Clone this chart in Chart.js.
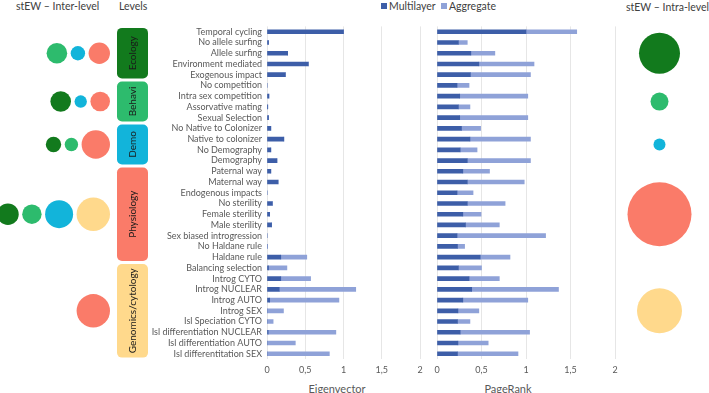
<!DOCTYPE html>
<html>
<head>
<meta charset="utf-8">
<script src="https://cdn.jsdelivr.net/npm/chart.js@4.4.1/dist/chart.umd.min.js"></script>
<style>
body { margin: 0; width: 709px; height: 393px; background: #fff; position: relative; overflow: hidden; font-family: Lato, "Open Sans", sans-serif; }
canvas { position: absolute; top: 0; }
.txt { position: absolute; white-space: nowrap; line-height: 12px; font-size: 10.5px; color: #404040; }
.sq { display: inline-block; width: 6px; height: 6px; margin-right: 2px; vertical-align: 1px; }
.axt { position: absolute; top: 382px; font-size: 11px; color: #595959; transform: translateX(-50%); white-space: nowrap; }
</style>
</head>
<body>
<div class="txt" style="left:16px; top:0px">stEW – Inter-level</div>
<div class="txt" style="left:119px; top:0px">Levels</div>
<div class="txt" style="left:381px; top:0px"><span class="sq" style="background:#3d5ea8"></span>Multilayer</div>
<div class="txt" style="left:441px; top:0px"><span class="sq" style="background:#8fa2d8"></span>Aggregate</div>
<div class="txt" style="left:626px; top:1px">stEW – Intra-level</div>
<div class="axt" style="left:337px">Eigenvector</div>
<div class="axt" style="left:508px">PageRank</div>

<canvas id="interChart" width="112" height="393" style="left:0px"></canvas>
<canvas id="eigChart" width="320" height="393" style="left:110px"></canvas>
<canvas id="prChart" width="197" height="393" style="left:428px"></canvas>
<canvas id="intraChart" width="89" height="393" style="left:615px"></canvas>

<script>
const categories = [
    "Temporal cycling", "No allele surfing", "Allele surfing", "Environment mediated", "Exogenous impact",
    "No competition", "Intra sex competition", "Assorvative mating", "Sexual Selection",
    "No Native to Colonizer", "Native to colonizer", "No Demography", "Demography",
    "Paternal way", "Maternal way", "Endogenous impacts", "No sterility", "Female sterility", "Male sterility",
    "Sex biased introgression", "No Haldane rule", "Haldane rule",
    "Balancing selection", "Introg CYTO", "Introg NUCLEAR", "Introg AUTO", "Introg SEX",
    "Isl Speciation CYTO", "Isl differentiation NUCLEAR", "Isl differentiation AUTO", "Isl differentitation SEX"
];

const eigMultilayer = [1.0, 0.02, 0.27, 0.54, 0.24, 0, 0.025, 0.01, 0.02, 0.05, 0.22, 0.05, 0.13, 0.05, 0.145, 0,
    0.07, 0.035, 0.06, 0, 0, 0.18, 0.02, 0.18, 0.16, 0.035, 0, 0, 0.015, 0, 0];
const eigAggregate = [0, 0, 0, 0, 0, 0, 0, 0, 0, 0, 0, 0, 0, 0, 0, 0,
    0, 0, 0, 0, 0.005, 0.34, 0.24, 0.39, 1.0, 0.905, 0.215, 0.08, 0.885, 0.37, 0.815];

const prMultilayer = [1.0, 0.24, 0.38, 0.47, 0.375, 0.225, 0.255, 0.24, 0.255, 0.275, 0.37, 0.26, 0.34, 0.29, 0.34, 0.225,
    0.34, 0.29, 0.32, 0.225, 0.23, 0.485, 0.24, 0.36, 0.39, 0.29, 0.235, 0.23, 0.26, 0.235, 0.23];
const prAggregate = [0.57, 0.10, 0.27, 0.62, 0.675, 0.135, 0.765, 0.13, 0.765, 0.215, 0.68, 0.19, 0.71, 0.30, 0.64, 0.18,
    0.425, 0.205, 0.38, 0.995, 0.08, 0.335, 0.26, 0.34, 0.975, 0.73, 0.235, 0.14, 0.78, 0.34, 0.68];

const xTicks = [0, 0.5, 1, 1.5, 2];

const levelNames = ["Ecology", "Behavi", "Demo", "Physiology", "Genomics/cytology"];
const levelFirstRow = [0, 5, 9, 13, 22];
const levelLastRow = [4, 8, 12, 21, 30];
const levelColors = ["#127a1d", "#2dbb6d", "#12b4da", "#fa7b69", "#ffd98c"];

// inter-level circles: which level colour, and radius
const interColor = [[1, 2, 3], [0, 2, 3], [0, 1, 3], [0, 1, 2, 4], [3]];
const interSize = [[10.3, 7.2, 10.7], [10.3, 6.2, 9.8], [7.7, 6.7, 14.2], [10.8, 9.7, 14, 16.7], [16.7]];
// intra-level circle radius
const intraSize = [20.5, 9, 6, 32, 22.5];

const darkBlue = "#3d5ea8";
const lightBlue = "#8fa2d8";
const rowsTop = 26.4;
const rowsBottom = 393 - 359.1;

function levelCenter(i) {
    return (levelFirstRow[i] + levelLastRow[i]) / 2;
}

const levelBoxes = {
    id: "levelBoxes",
    afterDraw(chart) {
        const ctx = chart.ctx;
        const y = chart.scales.y;
        const band = (y.getPixelForValue(1) - y.getPixelForValue(0));
        ctx.save();
        levelNames.forEach((name, i) => {
            const top = y.getPixelForValue(levelFirstRow[i]) - band / 2 + 1.5;
            const bottom = y.getPixelForValue(levelLastRow[i]) + band / 2 - 1.5;
            ctx.fillStyle = levelColors[i];
            ctx.beginPath();
            ctx.roundRect(7, top, 31, bottom - top, 5);
            ctx.fill();
            ctx.save();
            ctx.translate(23, (top + bottom) / 2);
            ctx.rotate(-Math.PI / 2);
            ctx.fillStyle = "#1a1a1a";
            ctx.font = "10px Lato, 'Open Sans', sans-serif";
            ctx.textAlign = "center";
            ctx.textBaseline = "middle";
            ctx.fillText(name, 0, 0);
            ctx.restore();
        });
        ctx.restore();
    }
};

function barOptions(showLabels, padLeft) {
    return {
        responsive: false,
        animation: false,
        indexAxis: "y",
        layout: { padding: { top: rowsTop, left: padLeft, right: 10, bottom: 0 } },
        plugins: { legend: { display: false }, tooltip: { enabled: false } },
        scales: {
            x: {
                stacked: true,
                min: 0,
                max: 2,
                afterBuildTicks: s => { s.ticks = xTicks.map(v => ({ value: v })); },
                afterFit: s => { s.height = rowsBottom; },
                grid: { color: "#e6e6e6", drawTicks: false },
                border: { display: false },
                ticks: {
                    padding: 6,
                    maxRotation: 0,
                    color: "#595959",
                    font: { size: 9, family: "Lato" },
                    callback: v => String(v).replace(".", ",")
                }
            },
            y: {
                stacked: true,
                display: showLabels,
                afterFit: s => { s.width = showLabels ? 157 : 0; },
                grid: { display: false, drawTicks: false },
                border: { display: false },
                ticks: {
                    autoSkip: false,
                    padding: 5,
                    color: "#595959",
                    font: { size: 9, family: "Lato" }
                }
            }
        }
    };
}

function barData(multi, aggr) {
    return {
        labels: categories,
        datasets: [
            { label: "Multilayer", data: multi, backgroundColor: darkBlue, barThickness: 4 },
            { label: "Aggregate", data: aggr, backgroundColor: lightBlue, barThickness: 4 }
        ]
    };
}

new Chart(document.getElementById("eigChart"), {
    type: "bar",
    data: barData(eigMultilayer, eigAggregate),
    options: barOptions(true, 0),
    plugins: [levelBoxes]
});

new Chart(document.getElementById("prChart"), {
    type: "bar",
    data: barData(prMultilayer, prAggregate),
    options: barOptions(false, 9)
});

// bubble charts share the same vertical row scale as the bars
function bubbleOptions(xMax) {
    return {
        responsive: false,
        animation: false,
        layout: { autoPadding: false, padding: { top: rowsTop, bottom: rowsBottom, left: 0, right: 0 } },
        plugins: { legend: { display: false }, tooltip: { enabled: false } },
        scales: {
            x: { type: "linear", display: false, min: 0, max: xMax },
            y: { type: "linear", display: false, min: -0.5, max: categories.length - 0.5, reverse: true }
        }
    };
}

// inter-level circles are packed from the right edge
const interPoints = [];
const interColors = [];
interSize.forEach((sizes, lv) => {
    let edge = 110;
    for (let k = sizes.length - 1; k >= 0; k--) {
        const r = sizes[k];
        interPoints.push({ x: edge - r, y: levelCenter(lv), r: r });
        interColors.push(levelColors[interColor[lv][k]]);
        edge = edge - 2 * r - 3.5;
    }
});

new Chart(document.getElementById("interChart"), {
    type: "bubble",
    data: {
        datasets: [{
            data: interPoints,
            backgroundColor: interColors,
            borderWidth: 0,
            clip: false
        }]
    },
    options: bubbleOptions(112)
});

new Chart(document.getElementById("intraChart"), {
    type: "bubble",
    data: {
        datasets: [{
            data: intraSize.map((r, i) => ({ x: 0.5, y: levelCenter(i), r: r })),
            backgroundColor: levelColors,
            borderWidth: 0,
            clip: false
        }]
    },
    options: bubbleOptions(1)
});
</script>
</body>
</html>
